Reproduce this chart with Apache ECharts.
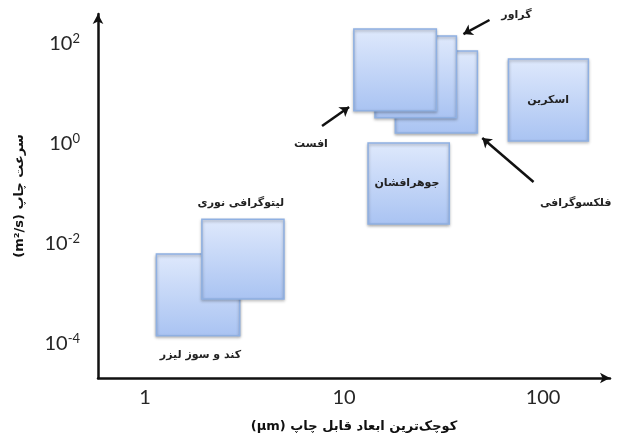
<!DOCTYPE html>
<html>
<head>
<meta charset="utf-8">
<script src="https://cdn.jsdelivr.net/npm/echarts@6/dist/echarts.min.js"></script>
<style>html,body{margin:0;padding:0;background:#fff}#c{width:622px;height:444px}</style>
</head>
<body>
<div id="c"></div>
<script>
// Rectangles (draw order: back to front). Values in real units (µm, m²/s)
const rectNames = ['laser', 'litho', 'flexo', 'gravure', 'offset', 'jet', 'screen'];
const rectXMin = [1.14, 1.93, 18.1, 14.3, 11.2, 13.2, 67];
const rectXMax = [2.99, 4.99, 46.8, 36.7, 29.1, 33.8, 169];
const rectYMin = [1.4e-4, 7.6e-4, 1.58, 3.2, 4.4, 0.024, 1.1];
const rectYMax = [6.0e-3, 0.030, 69, 138, 190, 1.0, 48];

// Text labels
const labelTexts = ['کند و سوز لیزر', 'لیتوگرافی نوری', 'افست', 'گراور', 'فلکسوگرافی', 'جوهرافشان', 'اسکرین'];
const labelX = [1.90, 3.03, 6.82, 73.5, 146, 20.7, 106];
const labelY = [5.75e-5, 0.063, 0.955, 363, 0.063, 0.155, 7.3];

// Arrows (from -> to)
const arrowX0 = [7.75, 53.8, 89.6];
const arrowY0 = [2.19, 288, 0.166];
const arrowX1 = [10.6, 39.8, 49.5];
const arrowY1 = [5.25, 151, 1.26];

// Axis ticks (powers of ten)
const xTickExps = [0, 1, 2];
const yTickExps = [-4, -2, 0, 2];
const xRange = [0.58, 217];
const yRange = [2.0e-5, 380];

// Axis titles (unit first so that it lands on the left, as in right-to-left text)
const xTitle = '(µm) کوچک‌ترین ابعاد قابل چاپ';
const yTitle = '(m²/s) سرعت چاپ';

const L = Math.log10;
const chart = echarts.init(document.getElementById('c'));

const rectData = rectNames.map((n, i) => [L(rectXMin[i]), L(rectXMax[i]), L(rectYMin[i]), L(rectYMax[i])]);
const labelData = labelTexts.map((t, i) => [L(labelX[i]), L(labelY[i]), t]);
const arrowData = arrowX0.map((x, i) => [
  { coord: [L(arrowX0[i]), L(arrowY0[i])] },
  { coord: [L(arrowX1[i]), L(arrowY1[i])] }
]);

const persianFont = 'DejaVu Sans';

chart.setOption({
  animation: false,
  grid: { left: 98, right: 12, top: 14, bottom: 66 },
  xAxis: {
    type: 'value',
    min: L(xRange[0]), max: L(xRange[1]),
    splitLine: { show: false },
    axisTick: { show: false },
    axisLine: { onZero: false, lineStyle: { color: '#111', width: 2.5 }, symbol: ['none', 'arrow'], symbolSize: [8, 10] },
    axisLabel: {
      customValues: xTickExps,
      formatter: v => String(Math.round(Math.pow(10, v))),
      fontFamily: 'Lato', fontSize: 20, color: '#262626', margin: 10
    },
    name: xTitle,
    nameLocation: 'middle', nameGap: 42,
    nameTextStyle: { fontFamily: persianFont, fontSize: 13, fontWeight: 'bold', color: '#111' }
  },
  yAxis: {
    type: 'value',
    min: L(yRange[0]), max: L(yRange[1]),
    splitLine: { show: false },
    axisTick: { show: false },
    axisLine: { onZero: false, lineStyle: { color: '#111', width: 2.5 }, symbol: ['none', 'arrow'], symbolSize: [8, 10] },
    axisLabel: {
      customValues: yTickExps,
      formatter: v => '{b|10}{s|' + v + '}',
      margin: 18,
      rich: {
        b: { fontFamily: 'Lato', fontSize: 20, color: '#262626', lineHeight: 22, verticalAlign: 'bottom' },
        s: { fontFamily: 'Lato', fontSize: 13, color: '#262626', lineHeight: 22, verticalAlign: 'top', padding: [0, 0, 8, 0] }
      }
    },
    name: yTitle,
    nameLocation: 'middle', nameGap: 72, nameRotate: 90,
    nameTextStyle: { fontFamily: persianFont, fontSize: 13, fontWeight: 'bold', color: '#111' }
  },
  series: [
    {
      type: 'custom',
      silent: true,
      data: rectData,
      renderItem: (params, api) => {
        const p0 = api.coord([api.value(0), api.value(3)]);
        const p1 = api.coord([api.value(1), api.value(2)]);
        return {
          type: 'rect',
          shape: { x: p0[0], y: p0[1], width: p1[0] - p0[0], height: p1[1] - p0[1] },
          style: {
            fill: new echarts.graphic.LinearGradient(0, 0, 0, 1, [
              { offset: 0, color: '#dfe9fc' },
              { offset: 1, color: '#a9c3f2' }
            ]),
            stroke: '#8fb0e2',
            lineWidth: 1.5,
            shadowBlur: 3,
            shadowOffsetY: 1.5,
            shadowColor: 'rgba(0,0,0,0.3)'
          }
        };
      }
    },
    {
      type: 'custom',
      silent: true,
      data: labelData,
      renderItem: (params, api) => {
        const p = api.coord([api.value(0), api.value(1)]);
        return {
          type: 'text',
          x: p[0], y: p[1],
          style: {
            text: labelData[params.dataIndex][2],
            font: 'bold 11px "DejaVu Sans"',
            fill: '#222',
            align: 'center',
            verticalAlign: 'middle'
          }
        };
      },
      markLine: {
        silent: true,
        symbol: ['none', 'arrow'],
        symbolSize: 9,
        label: { show: false },
        lineStyle: { color: '#111', width: 2.5, type: 'solid' },
        data: arrowData
      }
    }
  ]
});
</script>
</body>
</html>
